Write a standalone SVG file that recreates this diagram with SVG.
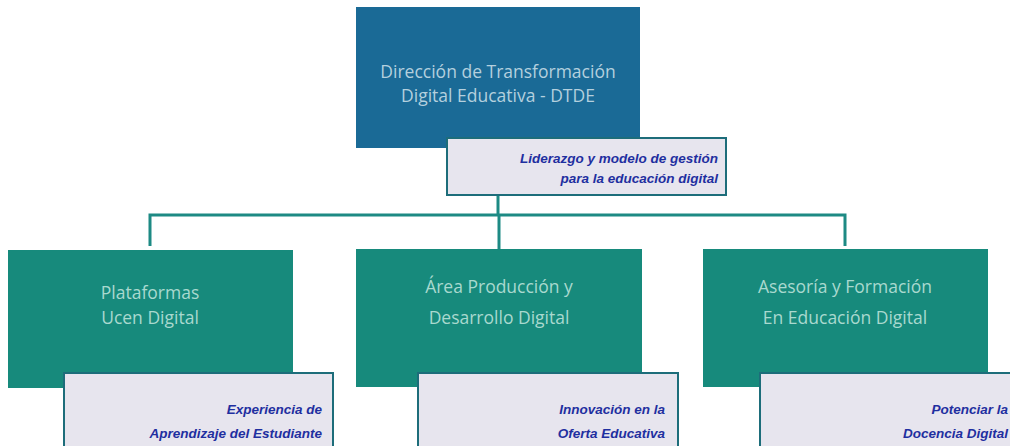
<svg xmlns="http://www.w3.org/2000/svg" width="1010" height="446" viewBox="0 0 1010 446">
<style>
.main{fill:#1a6a96}
.sub{fill:#178a7c}
.lbl{fill:#e7e5ee;stroke:#1d6d7a;stroke-width:2}
.t1{font-family:"Open Sans","Liberation Sans",sans-serif;font-size:17.5px;fill:#b4d0de;text-anchor:middle}
.t2{font-family:"Open Sans","Liberation Sans",sans-serif;font-size:17.5px;fill:#a9d9cf;text-anchor:middle}
.lt{font-family:"Liberation Sans",sans-serif;font-size:13.5px;font-weight:bold;font-style:italic;fill:#1f2fa0;text-anchor:end}
.con{fill:none;stroke:#1d8a84;stroke-width:3}
</style>
<rect width="1010" height="446" fill="#ffffff"/>
<g id="connectors">
<path class="con" d="M498,195 V215"/>
<path class="con" d="M150,246 V215 H845 V246"/>
<path class="con" d="M499,215 V249"/>
</g>
<g id="dtde">
<rect class="main" x="356" y="7" width="284" height="141"/>
<text class="t1" x="498" y="78">Dirección de Transformación</text>
<text class="t1" x="498" y="102">Digital Educativa - DTDE</text>
</g>
<g id="dtde-label">
<rect class="lbl" x="447" y="138" width="279" height="57"/>
<text class="lt" x="718" y="163">Liderazgo y modelo de gestión</text>
<text class="lt" x="718" y="183">para la educación digital</text>
</g>
<g id="plataformas">
<rect class="sub" x="8" y="250" width="285" height="138"/>
<text class="t2" x="150" y="299">Plataformas</text>
<text class="t2" x="150" y="324">Ucen Digital</text>
</g>
<g id="plataformas-label">
<rect class="lbl" x="64" y="373" width="269" height="74"/>
<text class="lt" x="322" y="414">Experiencia de</text>
<text class="lt" x="322" y="438">Aprendizaje del Estudiante</text>
</g>
<g id="produccion">
<rect class="sub" x="356" y="249" width="286" height="138"/>
<text class="t2" x="499" y="293">Área Producción y</text>
<text class="t2" x="499" y="324">Desarrollo Digital</text>
</g>
<g id="produccion-label">
<rect class="lbl" x="418" y="373" width="260" height="74"/>
<text class="lt" x="665" y="414">Innovación en la</text>
<text class="lt" x="665" y="438">Oferta Educativa</text>
</g>
<g id="asesoria">
<rect class="sub" x="703" y="249" width="285" height="138"/>
<text class="t2" x="845" y="293">Asesoría y Formación</text>
<text class="t2" x="845" y="324">En Educación Digital</text>
</g>
<g id="asesoria-label">
<rect class="lbl" x="760" y="373" width="260" height="74"/>
<text class="lt" x="1008" y="414">Potenciar la</text>
<text class="lt" x="1008" y="438">Docencia Digital</text>
</g>
</svg>
